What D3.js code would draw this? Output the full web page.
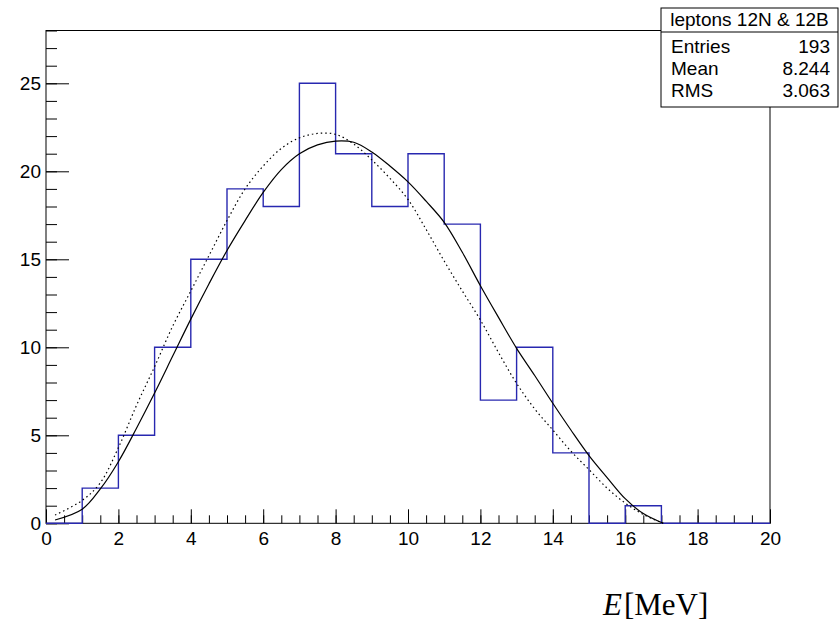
<!DOCTYPE html>
<html>
<head>
<meta charset="utf-8">
<script src="https://cdn.jsdelivr.net/npm/d3@7"></script>
<style>
  body { margin: 0; background: #fff; }
  svg { display: block; font-family: 'Liberation Sans', Arial, sans-serif; }
</style>
</head>
<body>
<svg id="chart" width="840" height="623"></svg>
<script>
// histogram: 20 bins of 1 MeV from 0 to 20
const binEdges = d3.range(0, 21)
const counts = [0, 2, 5, 10, 15, 19, 18, 25, 21, 18, 21, 17, 7, 10, 4, 0, 1, 0, 0, 0]

// solid curve
const solidX = [0.25, 1.0, 1.5, 2.0, 2.5, 3.0, 3.5, 4.0, 4.5, 5.0, 5.5, 6.0, 6.5, 7.0, 7.5, 8.0, 8.5, 9.0, 9.5, 10.0, 10.5, 11.0, 11.5, 12.0, 12.5, 13.0, 13.5, 14.0, 14.5, 15.0, 15.5, 16.0, 16.5, 17.05]
const solidY = [0.19, 0.8, 1.95, 3.5, 5.4, 7.4, 9.5, 11.6, 13.6, 15.5, 17.2, 18.8, 20.1, 21.0, 21.5, 21.72, 21.65, 21.1, 20.3, 19.4, 18.3, 17.1, 15.4, 13.5, 11.7, 9.94, 8.4, 6.82, 5.3, 3.85, 2.6, 1.4, 0.55, 0]

// dotted curve
const dottedX = [0.25, 1.0, 1.5, 2.0, 2.5, 3.0, 3.5, 4.0, 4.5, 5.0, 5.5, 6.0, 6.5, 7.0, 7.5, 8.0, 8.5, 9.0, 9.5, 10.0, 10.5, 11.0, 11.5, 12.0, 12.5, 13.0, 13.5, 14.0, 14.5, 15.0, 15.5, 16.0, 16.5, 17.05]
const dottedY = [0.47, 1.3, 2.3, 4.3, 6.7, 8.9, 11.2, 13.2, 15.2, 17.2, 19.0, 20.3, 21.3, 21.9, 22.15, 22.1, 21.55, 20.65, 19.6, 18.4, 16.7, 14.9, 13.2, 11.55, 9.7, 7.95, 6.5, 5.3, 4.1, 3.05, 2.0, 1.15, 0.5, 0]

const xTicks = d3.range(0, 21, 2)
const xMinorTicks = d3.range(0, 20.01, 0.5)
const yTicks = [0, 5, 10, 15, 20, 25]
const yMinorTicks = d3.range(0, 29, 1)

const statsTitle = 'leptons 12N & 12B'
const statsNames = ['Entries', 'Mean', 'RMS']
const statsValues = ['193', '8.244', '3.063']

const frame = { left: 46, right: 770, top: 30.5, bottom: 523.3 }

const svg = d3.select('#chart')

const x = d3.scaleLinear().domain([0, 20]).range([frame.left, frame.right])
const y = d3.scaleLinear().domain([0, 28]).range([frame.bottom, frame.top])

// minor ticks first, then major ticks with labels
svg.append('g')
  .attr('transform', `translate(0,${frame.bottom})`)
  .call(d3.axisBottom(x).tickValues(xMinorTicks).tickSize(-8).tickFormat(''))
svg.append('g')
  .attr('transform', `translate(0,${frame.bottom})`)
  .call(d3.axisBottom(x).tickValues(xTicks).tickSize(-14).tickPadding(8).tickFormat(d3.format('d')))

svg.append('g')
  .attr('transform', `translate(${frame.left},0)`)
  .call(d3.axisLeft(y).tickValues(yMinorTicks).tickSize(-11).tickFormat(''))
svg.append('g')
  .attr('transform', `translate(${frame.left},0)`)
  .call(d3.axisLeft(y).tickValues(yTicks).tickSize(-23).tickPadding(5).tickFormat(d3.format('d')))

svg.selectAll('.domain').remove()
svg.selectAll('.tick line').attr('stroke', '#000').attr('stroke-width', 1)
svg.selectAll('.tick text')
  .attr('font-family', "'Liberation Sans', Arial, sans-serif")
  .attr('font-size', 19)
  .attr('fill', '#000')

// frame
svg.append('rect')
  .attr('x', frame.left).attr('y', frame.top)
  .attr('width', frame.right - frame.left).attr('height', frame.bottom - frame.top)
  .attr('fill', 'none').attr('stroke', '#000').attr('stroke-width', 1)

// histogram outline
const histPts = [[0, 0]]
  .concat(binEdges.slice(0, -1).map((e, i) => [e, counts[i]]))
  .concat([[20, counts[counts.length - 1]], [20, 0]])
svg.append('path')
  .datum(histPts)
  .attr('d', d3.line().x(d => x(d[0])).y(d => y(d[1])).curve(d3.curveStepAfter))
  .attr('fill', 'none')
  .attr('stroke', '#2828b0')
  .attr('stroke-width', 1.4)

// curves
const curveLine = d3.line()
  .x(d => x(d[0]))
  .y(d => y(d[1]))
  .curve(d3.curveCatmullRom.alpha(0.5))

svg.append('path')
  .datum(dottedX.map((v, i) => [v, dottedY[i]]))
  .attr('d', curveLine)
  .attr('fill', 'none')
  .attr('stroke', '#000')
  .attr('stroke-width', 1.2)
  .attr('stroke-dasharray', '1.5,3')

svg.append('path')
  .datum(solidX.map((v, i) => [v, solidY[i]]))
  .attr('d', curveLine)
  .attr('fill', 'none')
  .attr('stroke', '#000')
  .attr('stroke-width', 1.2)

// stats box
const box = { x: 661, y: 8, w: 177, h: 99, head: 24 }
const stats = svg.append('g')
stats.append('rect')
  .attr('x', box.x).attr('y', box.y).attr('width', box.w).attr('height', box.h)
  .attr('fill', '#fff').attr('stroke', '#000').attr('stroke-width', 1)
stats.append('line')
  .attr('x1', box.x).attr('x2', box.x + box.w)
  .attr('y1', box.y + box.head).attr('y2', box.y + box.head)
  .attr('stroke', '#000')
stats.append('text')
  .attr('x', box.x + box.w / 2).attr('y', 26)
  .attr('text-anchor', 'middle')
  .attr('font-size', 19)
  .text(statsTitle)
statsNames.forEach((name, i) => {
  const by = 53 + i * 22
  stats.append('text')
    .attr('x', box.x + 10).attr('y', by)
    .attr('font-size', 19)
    .text(name)
  stats.append('text')
    .attr('x', box.x + box.w - 8).attr('y', by)
    .attr('text-anchor', 'end')
    .attr('font-size', 19)
    .text(statsValues[i])
})

// x axis title
const xt = svg.append('text')
  .attr('x', 603).attr('y', 615)
  .attr('font-family', "'Liberation Serif', 'DejaVu Serif', serif")
  .attr('font-size', 31)
xt.append('tspan').attr('font-style', 'italic').text('E')
xt.append('tspan').attr('dx', 2).text('[MeV]')
</script>
</body>
</html>
